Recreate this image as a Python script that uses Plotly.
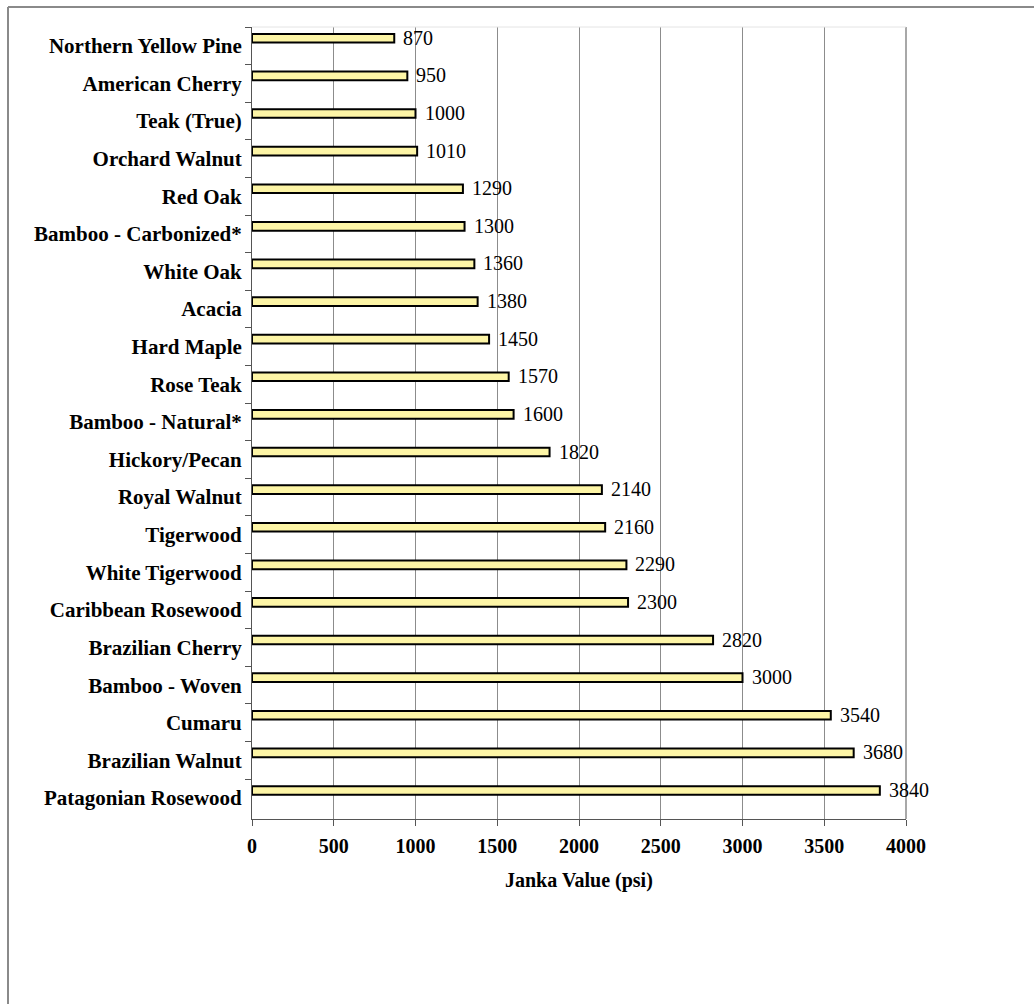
import plotly.graph_objects as go

species = [
    "Northern Yellow Pine", "American Cherry", "Teak (True)", "Orchard Walnut",
    "Red Oak", "Bamboo - Carbonized*", "White Oak", "Acacia", "Hard Maple",
    "Rose Teak", "Bamboo - Natural*", "Hickory/Pecan", "Royal Walnut",
    "Tigerwood", "White Tigerwood", "Caribbean Rosewood", "Brazilian Cherry",
    "Bamboo - Woven", "Cumaru", "Brazilian Walnut", "Patagonian Rosewood",
]
janka = [870, 950, 1000, 1010, 1290, 1300, 1360, 1380, 1450, 1570, 1600,
         1820, 2140, 2160, 2290, 2300, 2820, 3000, 3540, 3680, 3840]
x_ticks = [0, 500, 1000, 1500, 2000, 2500, 3000, 3500, 4000]
x_title = "Janka Value (psi)"

SERIF = "Liberation Serif, Times New Roman, serif"

fig = go.Figure()
fig.add_trace(go.Bar(
    x=janka, y=species, orientation="h",
    offset=-0.315, width=0.23,
    marker=dict(color="#FDF5A6", line=dict(color="black", width=2)),
    hoverinfo="x+y",
))

L, R, T, B = 252, 906, 27, 819
W, H = 1034, 1004

def px_x(p):
    return (p - L) / (R - L)

def px_y(p):
    return (B - p) / (B - T)

value_notes = [
    dict(x=v, y=s, xref="x", yref="y", text=str(v), showarrow=False,
         xanchor="left", yanchor="middle", xshift=7, yshift=8,
         font=dict(family=SERIF, size=20, color="black"))
    for s, v in zip(species, janka)
]

fig.update_layout(
    width=W, height=H,
    margin=dict(l=L, r=W - R, t=T, b=H - B, autoexpand=False),
    paper_bgcolor="white", plot_bgcolor="white",
    showlegend=False,
    font=dict(family=SERIF, color="black"),
    xaxis=dict(
        range=[0, 4000], tickvals=x_ticks, ticktext=[str(t) for t in x_ticks],
        showgrid=True, gridcolor="#8c8c8c", gridwidth=1,
        showline=True, linecolor="#555", linewidth=1,
        ticks="outside", ticklen=6, tickcolor="#555", ticklabelstandoff=3,
        tickfont=dict(family=SERIF, size=20, color="black", weight="bold"),
        zeroline=False, fixedrange=True,
    ),
    yaxis=dict(
        type="category", autorange="reversed",
        categoryorder="array", categoryarray=species,
        showline=True, linecolor="#555", linewidth=1,
        ticks="outside", ticklen=6, tickcolor="#555", tickson="boundaries",
        ticklabelstandoff=5,
        tickfont=dict(family=SERIF, size=21, color="black", weight="bold"),
        showgrid=False, fixedrange=True,
    ),
    annotations=value_notes + [dict(
        text="<b>" + x_title + "</b>", xref="paper", yref="paper",
        x=0.5, y=px_y(880), xanchor="center", yanchor="middle", showarrow=False,
        font=dict(family=SERIF, size=20, color="black"),
    )],
    shapes=[
        dict(type="line", xref="paper", yref="paper",
             x0=px_x(8), x1=px_x(1040), y0=px_y(7), y1=px_y(7),
             line=dict(color="#8a8a8a", width=2)),
        dict(type="line", xref="paper", yref="paper",
             x0=px_x(8), x1=px_x(8), y0=px_y(7), y1=px_y(1010),
             line=dict(color="#8a8a8a", width=2)),
        dict(type="line", xref="paper", yref="paper",
             x0=1, x1=1, y0=0, y1=1,
             line=dict(color="#a8a8a8", width=2)),
        dict(type="line", xref="paper", yref="paper",
             x0=0, x1=1, y0=1, y1=1,
             line=dict(color="#e4e4e4", width=1)),
    ],
)

fig.write_html("out.html")
